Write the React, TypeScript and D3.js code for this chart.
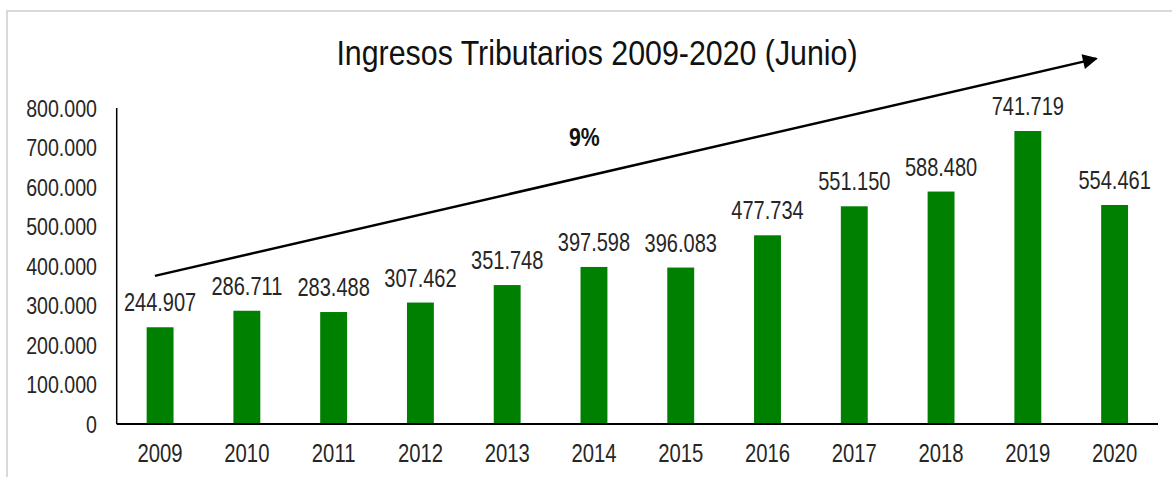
import React from "react";
import * as d3 from "d3";

const years = ["2009", "2010", "2011", "2012", "2013", "2014", "2015", "2016", "2017", "2018", "2019", "2020"];
const values = [244907, 286711, 283488, 307462, 351748, 397598, 396083, 477734, 551150, 588480, 741719, 554461];
const yTicks = [0, 100000, 200000, 300000, 400000, 500000, 600000, 700000, 800000];
const titleText = "Ingresos Tributarios 2009-2020 (Junio)";
const growthLabel = "9%";
// trend arrow in data terms: [year index, value]
const arrowStart: [number, number] = [-0.06, 375000];
const arrowEnd: [number, number] = [10.79, 925000];
const growthPos: [number, number] = [4.89, 703000];

const W = 1172;
const H = 477;
const left = 116.7;
const right = 1158;
const top = 108;
const bottom = 424;

const FONT = "'Liberation Sans', Arial, sans-serif";
const TXT = "#262626";

const fmt = (v: number) => {
  if (v === 0) return "0";
  const s = d3.format(",")(v);
  return s.replace(/,/g, ".");
};

function T(props: {
  x: number;
  y: number;
  sx: number;
  size: number;
  anchor: "start" | "middle" | "end";
  dy?: string;
  bold?: boolean;
  fill?: string;
  children: React.ReactNode;
}) {
  return (
    <text
      transform={`translate(${props.x},${props.y}) scale(${props.sx},1)`}
      dy={props.dy}
      textAnchor={props.anchor}
      fontSize={props.size}
      fontWeight={props.bold ? "bold" : "normal"}
      fill={props.fill ?? TXT}
    >
      {props.children}
    </text>
  );
}

export default function App() {
  const x = d3.scaleBand<string>().domain(years).range([left, right]).paddingInner(0.69).paddingOuter(0.345);
  const y = d3.scaleLinear().domain([0, 800000]).range([bottom, top]);
  const idx = d3
    .scaleLinear()
    .domain([0, years.length - 1])
    .range([(x(years[0]) as number) + x.bandwidth() / 2, (x(years[years.length - 1]) as number) + x.bandwidth() / 2]);

  const ax1 = idx(arrowStart[0]);
  const ay1 = y(arrowStart[1]);
  const ax2 = idx(arrowEnd[0]);
  const ay2 = y(arrowEnd[1]);

  return (
    <svg width={W} height={H} style={{ position: "absolute", left: 0, top: 0, background: "#fff" }} fontFamily={FONT}>
      <defs>
        <marker id="arr" viewBox="0 0 10 10" refX="9" refY="5" markerWidth="7" markerHeight="6" markerUnits="strokeWidth" orient="auto">
          <path d="M0,0 L10,5 L0,10 Z" fill="#000" />
        </marker>
      </defs>
      <rect x={7} y={11} width={W} height={H} fill="#fff" stroke="#d9d9d9" strokeWidth={2} />
      <T x={597} y={65} sx={0.867} size={35} anchor="middle" fill="#111">
        {titleText}
      </T>
      {yTicks.map((t) => (
        <T key={t} x={97} y={y(t)} dy="0.35em" sx={0.8} size={24.5} anchor="end">
          {fmt(t)}
        </T>
      ))}
      {years.map((yr, i) => {
        const cx = (x(yr) as number) + x.bandwidth() / 2;
        return (
          <g key={yr}>
            <rect x={x(yr)} y={y(values[i])} width={x.bandwidth()} height={bottom - y(values[i])} fill="#008000" />
            <T x={cx} y={y(values[i]) - 16} sx={0.77} size={26} anchor="middle">
              {fmt(values[i])}
            </T>
            <T x={cx} y={bottom + 37.5} sx={0.78} size={26} anchor="middle">
              {yr}
            </T>
          </g>
        );
      })}
      <line x1={left} x2={left} y1={top} y2={bottom} stroke="#000" strokeWidth={1.5} />
      <line x1={left} x2={right} y1={bottom} y2={bottom} stroke="#000" strokeWidth={2} />
      <line x1={ax1} y1={ay1} x2={ax2} y2={ay2} stroke="#000" strokeWidth={2.5} markerEnd="url(#arr)" />
      <T x={idx(growthPos[0])} y={y(growthPos[1])} sx={0.82} size={26} anchor="middle" bold fill="#111">
        {growthLabel}
      </T>
    </svg>
  );
}
